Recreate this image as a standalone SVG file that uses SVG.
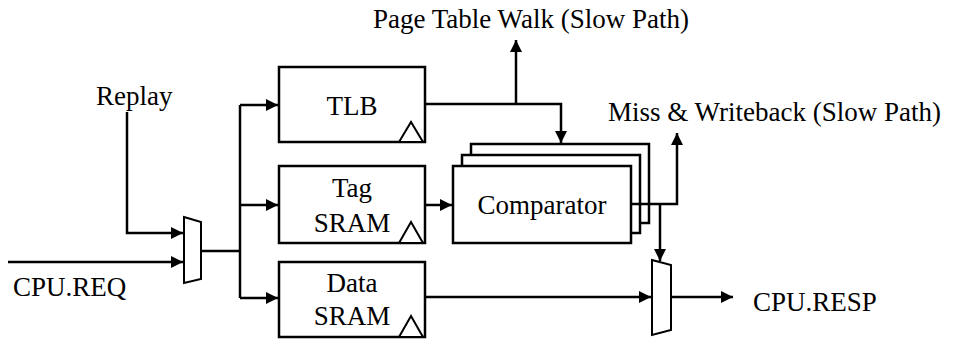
<svg xmlns="http://www.w3.org/2000/svg" width="957" height="343" viewBox="0 0 957 343">
<style>
text{font-family:"Liberation Serif","Times New Roman",serif;font-size:27px;fill:#000}
.box{fill:#fff;stroke:#000;stroke-width:2.5}
.clk{fill:#fff;stroke:#000;stroke-width:2}
.w{fill:none;stroke:#000;stroke-width:2.5}
.mux{fill:#fff;stroke:#000;stroke-width:2}
.c{text-anchor:middle}
</style>
<defs>
<marker id="ah" markerUnits="userSpaceOnUse" markerWidth="14" markerHeight="14" refX="12" refY="6" orient="auto">
<path d="M0,0 L12,6 L0,12 Z" fill="#000"/>
</marker>
</defs>
<rect width="957" height="343" fill="#fff"/>
<g id="connectors">
<path class="w" d="M127,112 V233 H183" marker-end="url(#ah)"/>
<path class="w" d="M8,262 H183" marker-end="url(#ah)"/>
<path class="w" d="M201,251 H240" stroke-width="3"/>
<path class="w" d="M240,105 V298"/>
<path class="w" d="M240,105 H278" marker-end="url(#ah)"/>
<path class="w" d="M240,205 H278" marker-end="url(#ah)"/>
<path class="w" d="M240,298 H278" marker-end="url(#ah)"/>
<path class="w" d="M425,104 H561 V143" marker-end="url(#ah)"/>
<path class="w" d="M516,104 V40" marker-end="url(#ah)"/>
<path class="w" d="M425,205 H452" marker-end="url(#ah)"/>
<path class="w" d="M425,297 H651" marker-end="url(#ah)"/>
<path class="w" d="M671,297 H733" marker-end="url(#ah)"/>
</g>
<g id="tlb">
<rect class="box" x="279" y="67" width="146" height="75"/>
<polygon class="clk" points="399,142 411,122 423,142"/>
<text class="c" x="352" y="115">TLB</text>
</g>
<g id="tag-sram">
<rect class="box" x="279" y="166" width="146" height="77"/>
<polygon class="clk" points="399,243 411,222 423,243"/>
<text class="c" x="352" y="197">Tag</text>
<text class="c" x="352" y="232">SRAM</text>
</g>
<g id="data-sram">
<rect class="box" x="279" y="262" width="146" height="75"/>
<polygon class="clk" points="399,337 411,316 423,337"/>
<text class="c" x="352" y="292">Data</text>
<text class="c" x="352" y="325">SRAM</text>
</g>
<g id="comparator">
<rect class="box" x="471" y="144" width="178" height="79"/>
<rect class="box" x="462" y="155" width="178" height="78"/>
<rect class="box" x="453" y="166" width="178" height="77"/>
<text class="c" x="542" y="214">Comparator</text>
</g>
<g id="comp-out">
<path class="w" d="M631,204 H677 V133" marker-end="url(#ah)"/>
<path class="w" d="M660,204 V261" marker-end="url(#ah)"/>
</g>
<g id="mux-in">
<polygon class="mux" points="184,217 201,222 201,279 184,283"/>
</g>
<g id="mux-out">
<polygon class="mux" points="652,260 671,265 671,330 652,335"/>
</g>
<g id="labels">
<text x="373" y="28">Page Table Walk (Slow Path)</text>
<text x="608" y="121">Miss &amp; Writeback (Slow Path)</text>
<text x="96" y="105">Replay</text>
<text x="13" y="296">CPU.REQ</text>
<text x="753" y="311">CPU.RESP</text>
</g>
</svg>
